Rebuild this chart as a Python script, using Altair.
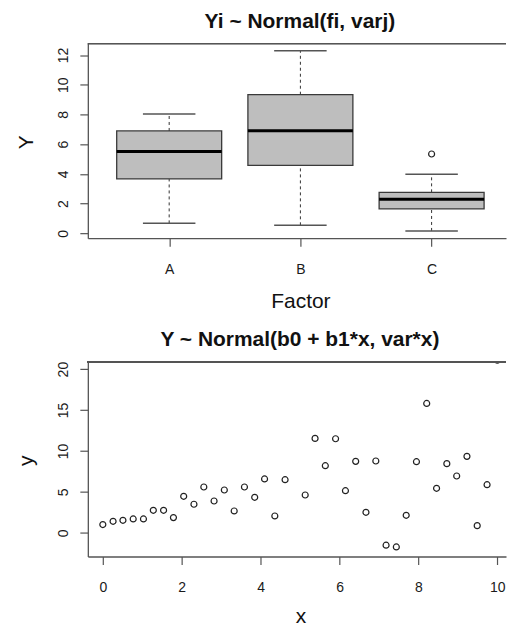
import altair as alt
import pandas as pd

# ---------------- data ----------------
factors = ["A", "B", "C"]
whisker_low = [0.67, 0.54, 0.16]
q1 = [3.66, 4.57, 1.64]
medians = [5.51, 6.91, 2.29]
q3 = [6.89, 9.33, 2.76]
whisker_high = [8.03, 12.29, 3.97]
outlier_factor = ["C"]
outlier_value = [5.34]

x_vals = [0.00, 0.26, 0.51, 0.77, 1.03, 1.28, 1.54, 1.79, 2.05, 2.31,
          2.56, 2.82, 3.08, 3.33, 3.59, 3.85, 4.10, 4.36, 4.62, 5.13,
          5.38, 5.64, 5.90, 6.15, 6.41, 6.67, 6.92, 7.18, 7.44, 7.69,
          7.95, 8.21, 8.46, 8.72, 8.97, 9.23, 9.49, 9.74, 10.00]
y_vals = [1.02, 1.42, 1.54, 1.71, 1.71, 2.76, 2.76, 1.87, 4.47, 3.50,
          5.61, 3.90, 5.24, 2.68, 5.61, 4.35, 6.59, 2.07, 6.50, 4.63,
          11.54, 8.21, 11.50, 5.16, 8.74, 2.52, 8.78, -1.50, -1.71, 2.15,
          8.70, 15.81, 5.45, 8.46, 6.95, 9.35, 0.89, 5.89, 21.1]

top_title = "Yi ~ Normal(fi, varj)"
bottom_title = "Y ~ Normal(b0 + b1*x, var*x)"

# ---------------- styling ----------------
FONT = "Liberation Sans"
W = 419
H = 195
AX = "#555555"
TXT = "#111111"

pos_of = {f: i + 1 for i, f in enumerate(factors)}
box_df = pd.DataFrame({
    "factor": factors,
    "pos": [pos_of[f] for f in factors],
    "lo": whisker_low, "q1": q1, "med": medians, "q3": q3, "hi": whisker_high,
})
out_df = pd.DataFrame({
    "factor": outlier_factor,
    "pos": [pos_of[f] for f in outlier_factor],
    "value": outlier_value,
})
pts_df = pd.DataFrame({"x": x_vals, "y": y_vals})

label_expr = " : ".join(
    f"datum.value == {i + 1} ? '{f}'" for i, f in enumerate(factors)
) + " : ''"

common_axis = dict(
    grid=False, domain=True, domainColor=AX, domainWidth=1.3,
    ticks=True, tickColor=AX, tickWidth=1.2, tickSize=8,
    labelFont=FONT, labelFontSize=14, labelColor="#1a1a1a",
    titleFont=FONT, titleFontSize=21, titleFontWeight="normal", titleColor=TXT,
    labelOverlap=False, labelFlush=False,
)


def x_axis(title, values, label_expr=None, title_y=69):
    kw = dict(common_axis)
    kw.update(values=values, title=title, labelBaseline="alphabetic",
              labelAlign="center", labelPadding=27,
              titleBaseline="alphabetic", titleAnchor="middle",
              titleX=213, titleY=title_y)
    if label_expr is not None:
        kw["labelExpr"] = label_expr
    return alt.Axis(**kw)


def y_axis(title, values):
    kw = dict(common_axis)
    kw.update(values=values, title=title, labelAngle=270,
              labelAlign="center", labelBaseline="alphabetic",
              labelPadding=12, titleAngle=270, titleAlign="center",
              titleBaseline="alphabetic", titleX=-55, titleY=H / 2 + 1)
    return alt.Axis(**kw)


# ---------------- top panel: boxplot ----------------
xs_top = alt.Scale(domain=[0.38, 3.567], nice=False, zero=False)
ys_top = alt.Scale(domain=[-0.325, 12.775], nice=False, zero=False)
xa_top = x_axis("Factor", [1, 2, 3], label_expr)
ya_top = y_axis("Y", [0, 2, 4, 6, 8, 10, 12])

base = alt.Chart(box_df).transform_calculate(
    bl="datum.pos - 0.4", br="datum.pos + 0.4",
    cl="datum.pos - 0.2", cr="datum.pos + 0.2",
)

wlow = base.mark_rule(color="#333333", strokeWidth=1, strokeDash=[3, 3]).encode(
    x=alt.X("pos:Q", scale=xs_top, axis=xa_top),
    y=alt.Y("lo:Q", scale=ys_top, axis=ya_top), y2="q1:Q")
whigh = base.mark_rule(color="#333333", strokeWidth=1, strokeDash=[3, 3]).encode(
    x=alt.X("pos:Q", scale=xs_top, axis=xa_top),
    y=alt.Y("q3:Q", scale=ys_top, axis=ya_top), y2="hi:Q")
cap_lo = base.mark_rule(color="#555555", strokeWidth=1.5).encode(
    x=alt.X("cl:Q", scale=xs_top, axis=xa_top), x2="cr:Q",
    y=alt.Y("lo:Q", scale=ys_top, axis=ya_top))
cap_hi = base.mark_rule(color="#555555", strokeWidth=1.5).encode(
    x=alt.X("cl:Q", scale=xs_top, axis=xa_top), x2="cr:Q",
    y=alt.Y("hi:Q", scale=ys_top, axis=ya_top))
boxes = base.mark_bar(fill="#BEBEBE", stroke="#3a3a3a", strokeWidth=1.3).encode(
    x=alt.X("bl:Q", scale=xs_top, axis=xa_top), x2="br:Q",
    y=alt.Y("q1:Q", scale=ys_top, axis=ya_top), y2="q3:Q")
meds = base.mark_rule(color="#000000", strokeWidth=3).encode(
    x=alt.X("bl:Q", scale=xs_top, axis=xa_top), x2="br:Q",
    y=alt.Y("med:Q", scale=ys_top, axis=ya_top))
outs = alt.Chart(out_df).mark_point(
    shape="circle", filled=False, color="#222222", size=36, strokeWidth=1.2, opacity=1
).encode(
    x=alt.X("pos:Q", scale=xs_top, axis=xa_top),
    y=alt.Y("value:Q", scale=ys_top, axis=ya_top))
top_border = alt.Chart(box_df).mark_rule(color=AX, strokeWidth=1.3).encode(
    x=alt.value(0), x2=alt.value(W), y=alt.value(0))

top = alt.layer(wlow, whigh, cap_lo, cap_hi, boxes, meds, outs, top_border).properties(
    width=W, height=H,
    title=alt.TitleParams(top_title, font=FONT, fontSize=21, fontWeight="bold",
                          color=TXT, anchor="middle", frame="group",
                          baseline="alphabetic", offset=-6, dx=3),
)

# ---------------- bottom panel: scatter ----------------
xs_bot = alt.Scale(domain=[-0.38, 10.22], nice=False, zero=False)
ys_bot = alt.Scale(domain=[-2.88, 20.88], nice=False, zero=False)
xa_bot = x_axis("x", [0, 2, 4, 6, 8, 10], title_y=66)
ya_bot = y_axis("y", [0, 5, 10, 15, 20])

pts = alt.Chart(pts_df).mark_point(
    shape="circle", filled=False, color="#222222", size=36, strokeWidth=1.2,
    opacity=1, clip=True
).encode(
    x=alt.X("x:Q", scale=xs_bot, axis=xa_bot),
    y=alt.Y("y:Q", scale=ys_bot, axis=ya_bot))
bot_border = alt.Chart(pts_df).mark_rule(color=AX, strokeWidth=1.3).encode(
    x=alt.value(0), x2=alt.value(W), y=alt.value(0))

bottom = alt.layer(pts, bot_border).properties(
    width=W, height=H,
    title=alt.TitleParams(bottom_title, font=FONT, fontSize=21, fontWeight="bold",
                          color=TXT, anchor="middle", frame="group",
                          baseline="alphabetic", offset=-6, dx=3),
)

chart = alt.vconcat(top, bottom, spacing=18).properties(
    padding={"left": 16, "top": 10, "right": 0, "bottom": 0},
    background="white",
).configure_view(stroke=None)

chart.save("out.html", embed_options={"renderer": "svg", "actions": False})
